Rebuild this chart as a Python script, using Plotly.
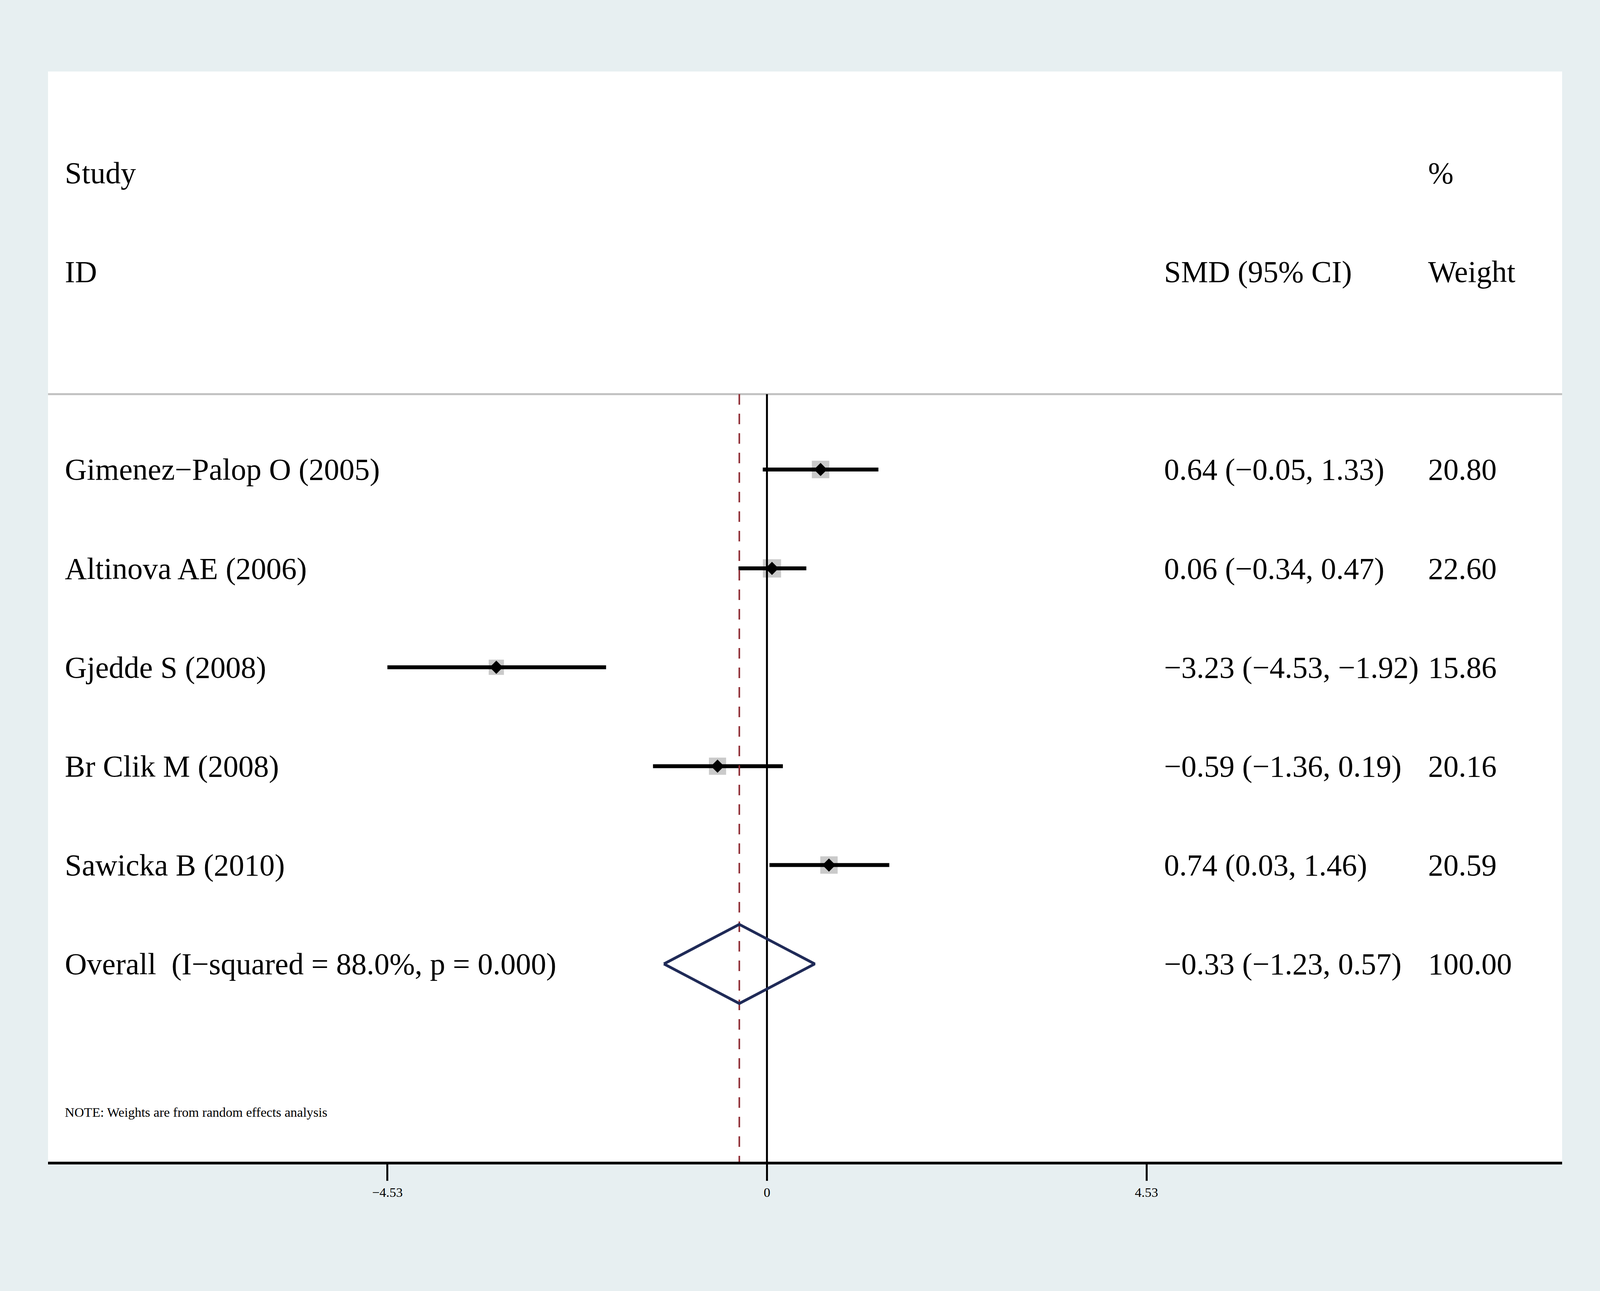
import plotly.graph_objects as go

# study data (standardized mean difference, 95% CI, random-effects weight %)
STUDIES = ["Gimenez−Palop O (2005)", "Altinova AE (2006)", "Gjedde S (2008)",
           "Br Clik M (2008)", "Sawicka B (2010)"]
SMD = [0.64, 0.06, -3.23, -0.59, 0.74]
CI_LOW = [-0.05, -0.34, -4.53, -1.36, 0.03]
CI_HIGH = [1.33, 0.47, -1.92, 0.19, 1.46]
WEIGHTS = [20.80, 22.60, 15.86, 20.16, 20.59]

OVERALL_LABEL = "Overall  (I−squared = 88.0%, p = 0.000)"
OVERALL = -0.33
OVERALL_LOW = -1.23
OVERALL_HIGH = 0.57
OVERALL_WEIGHT = 100.00

TICKS = [-4.53, 0, 4.53]
NOTE = "NOTE: Weights are from random effects analysis"

# the browser viewport is 4096 wide, so the page is laid out for that width
W, H = 4096, 3305
FONT = "Liberation Serif"
BIG = 78
SMALL = 34


def fmt(v: float) -> str:
    '''Stata style number with a real minus sign'''
    return f"{v:.2f}".replace("-", "−")


rows = list(range(1, len(STUDIES) + 1))  # one row per study, counted downward
overall_row = len(STUDIES) + 1
sep_y = 0.2375   # header separator
y_bottom = 8.0   # bottom of the plot area
y_top = -3.025

fig = go.Figure()

# grey weight boxes (area proportional to the weight)
fig.add_trace(go.Scatter(
    x=SMD, y=rows, mode="markers",
    marker=dict(symbol="square", color="#b4b4b4",
                size=[9.8 * w ** 0.5 for w in WEIGHTS], line=dict(width=0)),
    showlegend=False, hoverinfo="skip",
))

# confidence intervals
for i in range(len(STUDIES)):
    fig.add_trace(go.Scatter(
        x=[CI_LOW[i], CI_HIGH[i]], y=[rows[i], rows[i]], mode="lines",
        line=dict(color="black", width=10), showlegend=False, hoverinfo="skip",
    ))

# point estimates
fig.add_trace(go.Scatter(
    x=SMD, y=rows, mode="markers",
    marker=dict(symbol="diamond", color="black", size=26, line=dict(width=0)),
    showlegend=False, hoverinfo="skip",
))

# line of no effect
fig.add_trace(go.Scatter(
    x=[0, 0], y=[sep_y, y_bottom], mode="lines",
    line=dict(color="black", width=5), showlegend=False, hoverinfo="skip",
))

# overall effect line (dashed)
fig.add_trace(go.Scatter(
    x=[OVERALL, OVERALL], y=[sep_y, y_bottom], mode="lines",
    line=dict(color="#8e2b33", width=4, dash="27px,23px"),
    showlegend=False, hoverinfo="skip",
))

# pooled diamond
h = 0.4
fig.add_trace(go.Scatter(
    x=[OVERALL_LOW, OVERALL, OVERALL_HIGH, OVERALL, OVERALL_LOW],
    y=[overall_row, overall_row - h, overall_row, overall_row + h, overall_row],
    mode="lines", line=dict(color="#1f2a57", width=7),
    showlegend=False, hoverinfo="skip",
))

# header separator
fig.add_shape(type="line", xref="paper", x0=0, x1=1, yref="y", y0=sep_y, y1=sep_y,
              line=dict(color="#c0c0c0", width=5), layer="below")

X_ID = 0.0105
X_SMD = 0.7365
X_W = 0.911


def txt(x, y, s, size=BIG):
    fig.add_annotation(x=x, y=y, xref="paper", yref="y", text=s, showarrow=False,
                       xanchor="left", yanchor="middle",
                       font=dict(family=FONT, size=size, color="black"))


txt(X_ID, -2, "Study")
txt(X_ID, -1, "ID")
txt(X_SMD, -1, "SMD (95% CI)")
txt(X_W, -2, "%")
txt(X_W, -1, "Weight")

for i, name in enumerate(STUDIES):
    txt(X_ID, rows[i], name)
    txt(X_SMD, rows[i], f"{fmt(SMD[i])} ({fmt(CI_LOW[i])}, {fmt(CI_HIGH[i])})")
    txt(X_W, rows[i], f"{WEIGHTS[i]:.2f}")

txt(X_ID, overall_row, OVERALL_LABEL)
txt(X_SMD, overall_row, f"{fmt(OVERALL)} ({fmt(OVERALL_LOW)}, {fmt(OVERALL_HIGH)})")
txt(X_W, overall_row, f"{OVERALL_WEIGHT:.2f}")
txt(X_ID, 7.5, NOTE, SMALL)

fig.update_layout(
    width=W, height=H,
    margin=dict(l=123, r=97, t=183, b=331),
    paper_bgcolor="#e7eff1", plot_bgcolor="white",
    xaxis=dict(range=[-8.58, 9.49], showgrid=False, zeroline=False,
               showline=True, linecolor="black", linewidth=7,
               ticks="outside", ticklen=42, tickwidth=5, tickcolor="black",
               tickvals=TICKS, ticktext=[fmt(t) if t != 0 else "0" for t in TICKS],
               tickfont=dict(family=FONT, size=SMALL, color="black"),
               automargin=False, fixedrange=True),
    yaxis=dict(range=[y_bottom, y_top], visible=False, automargin=False),
)

# drop the default page margin so the figure sits flush in the window
fig.write_html("out.html", config={"displayModeBar": False},
               post_script="document.body.style.margin='0';"
                           "document.body.style.overflow='hidden';")
